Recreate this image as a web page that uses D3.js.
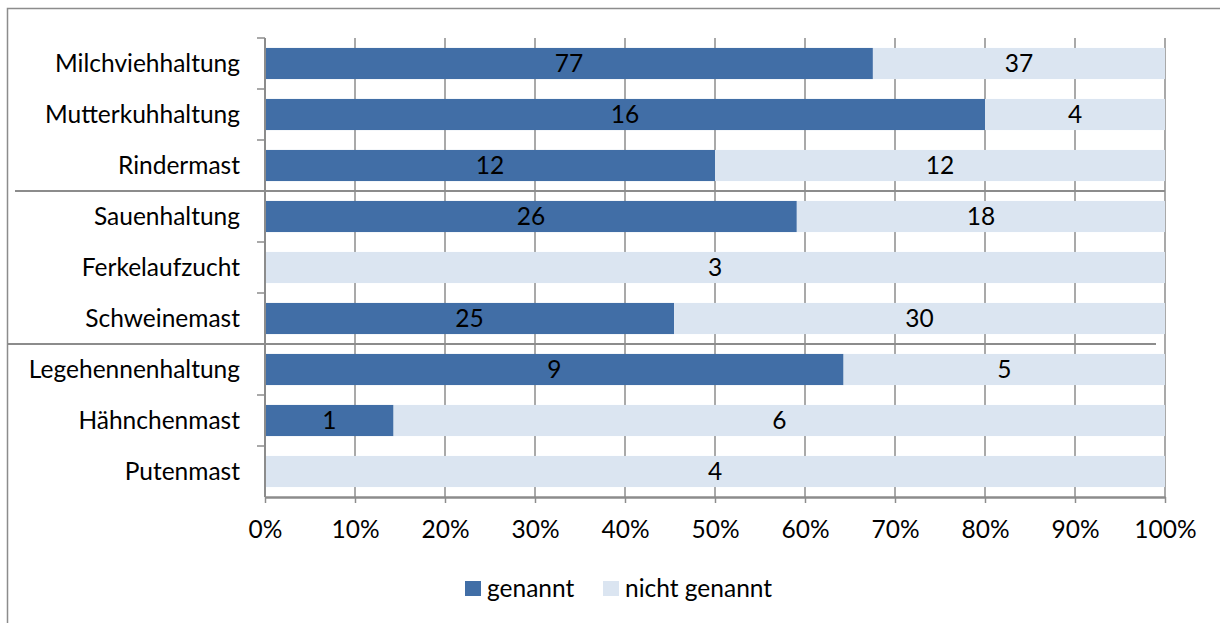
<!DOCTYPE html>
<html><head><meta charset="utf-8">
<script src="https://cdn.jsdelivr.net/npm/d3@7"></script>
<style>body{margin:0;background:#fff}svg{display:block}text{font-family:Lato,sans-serif;fill:#000}</style>
</head><body>
<svg id="c" width="1220" height="623"></svg>
<script>
const categories = ["Milchviehhaltung","Mutterkuhhaltung","Rindermast","Sauenhaltung","Ferkelaufzucht","Schweinemast","Legehennenhaltung","Hähnchenmast","Putenmast"];
const genannt = [77,16,12,26,0,25,9,1,0];
const nichtGenannt = [37,4,12,18,3,30,5,6,4];
const seriesNames = ["genannt","nicht genannt"];
const xTicks = [0,0.1,0.2,0.3,0.4,0.5,0.6,0.7,0.8,0.9,1];
const colors = ["#416EA6","#DBE5F1"];

const FS = 24.5;
const svg = d3.select("#c");
const L = 265, R = 1165, T = 38, B = 497;
const x = d3.scaleLinear().domain([0,1]).range([L,R]);
const y = d3.scaleBand().domain(categories).range([T,B]).paddingInner(0.39).paddingOuter(0.195);
const yb = d3.scaleBand().domain(categories).range([T,B]);

// frame
svg.append("path").attr("d","M7.5,623 V8.5 H1220").attr("fill","none").attr("stroke","#8c8c8c").attr("stroke-width",1.5);

// gridlines
svg.append("g").selectAll("line").data(xTicks.slice(1)).join("line")
  .attr("x1",d=>x(d)).attr("x2",d=>x(d)).attr("y1",T).attr("y2",B)
  .attr("stroke","#8c8c8c").attr("stroke-width",1.5);

// bars
const rows = categories.map((c,i)=>{const tot=genannt[i]+nichtGenannt[i];return {c,vals:[genannt[i],nichtGenannt[i]],tot};});
rows.forEach(r=>{
  let acc=0;
  r.vals.forEach((v,k)=>{
    const x0=acc/r.tot, x1=(acc+v)/r.tot; acc+=v;
    if(v===0) return;
    svg.append("rect").attr("x",x(x0)).attr("width",x(x1)-x(x0)).attr("y",y(r.c)).attr("height",y.bandwidth()).attr("fill",colors[k]);
    svg.append("text").attr("x",(x(x0)+x(x1))/2).attr("y",y(r.c)+y.bandwidth()/2).attr("dy","0.36em")
      .attr("text-anchor","middle").attr("font-size",FS).text(v);
  });
});

// y axis
const yAxis = svg.append("g").attr("transform",`translate(${L},0)`);
yAxis.append("line").attr("x1",0).attr("x2",0).attr("y1",T).attr("y2",B).attr("stroke","#8c8c8c").attr("stroke-width",2);
yAxis.selectAll("line.t").data(d3.range(categories.length)).join("line").attr("class","t")
  .attr("x1",-8).attr("x2",0).attr("y1",i=>yb(categories[i])).attr("y2",i=>yb(categories[i])).attr("stroke","#8c8c8c").attr("stroke-width",1.5);
yAxis.selectAll("text").data(categories).join("text")
  .attr("x",-25).attr("y",d=>yb(d)+yb.bandwidth()/2).attr("dy","0.36em").attr("text-anchor","end").attr("font-size",FS).text(d=>d);

// x axis
const xAxis = svg.append("g").attr("transform",`translate(0,${B})`)
  .call(d3.axisBottom(x).tickValues(xTicks).tickFormat(d3.format(".0%")).tickSize(6).tickSizeOuter(0));
xAxis.select(".domain").attr("stroke","#8c8c8c").attr("stroke-width",2.5);
xAxis.selectAll(".tick line").attr("stroke","#8c8c8c").attr("stroke-width",1.5);
xAxis.selectAll(".tick text").attr("font-size",FS).attr("font-family","Lato").attr("fill","#000").attr("y",24);

// separators
const sep = [[3,15,1165],[6,7,1156]];
svg.append("g").selectAll("line").data(sep).join("line")
  .attr("x1",d=>d[1]).attr("x2",d=>d[2]).attr("y1",d=>yb(categories[d[0]])).attr("y2",d=>yb(categories[d[0]]))
  .attr("stroke","#8c8c8c").attr("stroke-width",2);

// legend
const leg = [{n:seriesNames[0],c:colors[0],x:465},{n:seriesNames[1],c:colors[1],x:603}];
const lg = svg.append("g");
leg.forEach(l=>{
  lg.append("rect").attr("x",l.x).attr("y",581).attr("width",16).attr("height",15).attr("fill",l.c);
  lg.append("text").attr("x",l.x+22).attr("y",588).attr("dy","0.36em").attr("font-size",FS).text(l.n);
});
</script>
</body></html>
